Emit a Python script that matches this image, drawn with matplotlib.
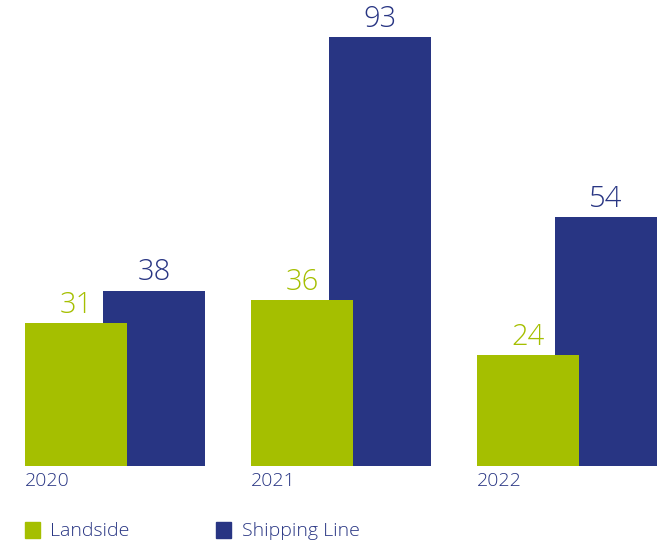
import matplotlib.pyplot as plt
from matplotlib import font_manager
import numpy as np

years = ['2020', '2021', '2022']
landside = [31, 36, 24]
shipping = [38, 93, 54]

green = '#a5bf00'
navy = '#283583'

# pick a family that has a real light (300) face
font, weight = 'Lato', 'normal'
for fam in ['Open Sans', 'Roboto', 'Noto Sans', 'Inter', 'Lato']:
    faces = [f for f in font_manager.fontManager.ttflist
             if f.name == fam and f.weight == 300 and f.style == 'normal']
    if faces:
        font, weight = fam, 300
        break

fig = plt.figure(figsize=(6.64, 5.41), dpi=100)
ax = fig.add_axes([0, 75 / 541, 1, 466 / 541])

x = np.arange(len(years))
w = 102 / 226
off = 78 / 226

ax.bar(x, landside, width=w, color=green, zorder=2)
ax.bar(x + off, shipping, width=w, color=navy, zorder=1)

for xi, v in zip(x, landside):
    ax.text(xi, v + 0.7, str(v), ha='center', va='bottom', color=green,
            fontsize=21, family=font, fontweight=weight)
for xi, v in zip(x, shipping):
    ax.text(xi + off, v + 0.7, str(v), ha='center', va='bottom', color=navy,
            fontsize=21, family=font, fontweight=weight)

for xi, y in zip(x, years):
    ax.text(xi - w / 2, -1.3, y, ha='left', va='top', color=navy,
            fontsize=14, family=font, fontweight=weight)

ax.set_xlim(-76 / 226, (664 - 76) / 226)
ax.set_ylim(0, 466 / 4.613)
ax.axis('off')

# legend
fig.patches.append(plt.Rectangle((25 / 664, 3 / 541), 15 / 664, 16 / 541,
                                 transform=fig.transFigure, color=green))
fig.text(50 / 664, 10 / 541, 'Landside', va='center', ha='left', color=navy,
         fontsize=14, family=font, fontweight=weight)
fig.patches.append(plt.Rectangle((216 / 664, 3 / 541), 15 / 664, 16 / 541,
                                 transform=fig.transFigure, color=navy))
fig.text(242 / 664, 10 / 541, 'Shipping Line', va='center', ha='left', color=navy,
         fontsize=14, family=font, fontweight=weight)

plt.savefig('out.png', dpi=100)
